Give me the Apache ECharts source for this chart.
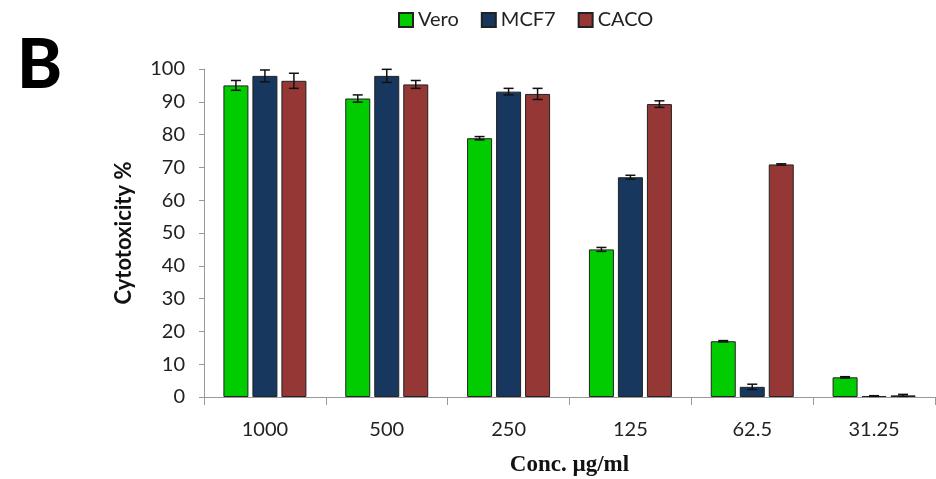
<!DOCTYPE html>
<html><head><meta charset="utf-8">
<script src="https://cdn.jsdelivr.net/npm/echarts@6/dist/echarts.min.js"></script>
<style>html,body{margin:0;padding:0;background:#fff}#c{width:936px;height:479px}</style>
</head><body><div id="c"></div>
<script>
const categories = ['1000', '500', '250', '125', '62.5', '31.25'];
const seriesNames = ['Vero', 'MCF7', 'CACO'];
const vero = [95.0, 91.0, 78.9, 45.0, 17.0, 6.0];
const mcf7 = [97.9, 97.9, 93.1, 67.0, 3.1, 0.3];
const caco = [96.4, 95.3, 92.4, 89.3, 70.9, 0.5];
const veroErr = [1.5, 1.1, 0.5, 0.6, 0.2, 0.2];
const mcf7Err = [1.8, 2.0, 1.0, 0.6, 0.8, 0.1];
const cacoErr = [2.3, 1.2, 1.7, 1.0, 0.2, 0.3];

const colors = ['#00CC00', '#17375E', '#953735'];
const BW = 25, GAP = 4;
const values = [vero, mcf7, caco];
const errs = [veroErr, mcf7Err, cacoErr];
const chart = echarts.init(document.getElementById('c'));
const barSeries = values.map((vals, k) => ({
  name: seriesNames[k], type: 'bar', data: vals, barWidth: BW, barGap: (GAP / BW * 100) + '%',
  itemStyle: { color: colors[k], borderColor: '#222', borderWidth: 1 }
}));
const errSeries = values.map((vals, k) => ({
  type: 'custom', name: 'err' + k, z: 10,
  data: vals.map((v, i) => [i, v, errs[k][i]]),
  renderItem: function (params, api) {
    const ci = api.value(0), v = api.value(1), e = api.value(2);
    const c = api.coord([ci, v]);
    const hi = api.coord([ci, v + e]);
    const lo = api.coord([ci, Math.max(0, v - e)]);
    const x = c[0] + (k - 1) * (BW + GAP);
    const hw = 5;
    const st = { stroke: '#111', lineWidth: 1.5 };
    return { type: 'group', children: [
      { type: 'line', shape: { x1: x, y1: hi[1], x2: x, y2: lo[1] }, style: st },
      { type: 'line', shape: { x1: x - hw, y1: hi[1], x2: x + hw, y2: hi[1] }, style: st },
      { type: 'line', shape: { x1: x - hw, y1: lo[1], x2: x + hw, y2: lo[1] }, style: st }
    ]};
  }
}));
chart.setOption({
  animation: false,
  title: { text: 'B', left: 12, top: 27, textStyle: { fontFamily: 'Lato', fontWeight: 900, fontSize: 68, color: '#000' } },
  legend: {
    data: seriesNames, top: 5, left: 393, itemWidth: 14, itemHeight: 14, itemGap: 22,
    textStyle: { fontFamily: 'Lato', fontSize: 20, color: '#222' }, icon: 'rect'
  },
  grid: { left: 204, right: 1, top: 69, bottom: 82, containLabel: false, outerBoundsMode: 'none' },
  xAxis: {
    type: 'category', data: categories,
    name: 'Conc. µg/ml', nameLocation: 'middle', nameGap: 57,
    nameTextStyle: { fontFamily: 'Liberation Serif', fontWeight: 'bold', fontSize: 23, color: '#111' },
    axisLine: { lineStyle: { color: '#999' } },
    axisTick: { show: true, length: 8, lineStyle: { color: '#999' } },
    axisLabel: { fontFamily: 'Lato', fontSize: 20, color: '#222', margin: 23 }
  },
  yAxis: {
    type: 'value', min: 0, max: 100, interval: 10,
    name: 'Cytotoxicity %', nameLocation: 'middle', nameGap: 69, nameRotate: 90,
    nameTextStyle: { fontFamily: 'Lato', fontWeight: 'bold', fontSize: 22, color: '#111' },
    axisLine: { show: true, lineStyle: { color: '#999' } },
    axisTick: { show: true, length: 5, lineStyle: { color: '#999' } },
    splitLine: { show: false },
    axisLabel: { fontFamily: 'Lato', fontSize: 20, color: '#222', margin: 19 }
  },
  series: barSeries.concat(errSeries)
});
</script>
</body></html>
